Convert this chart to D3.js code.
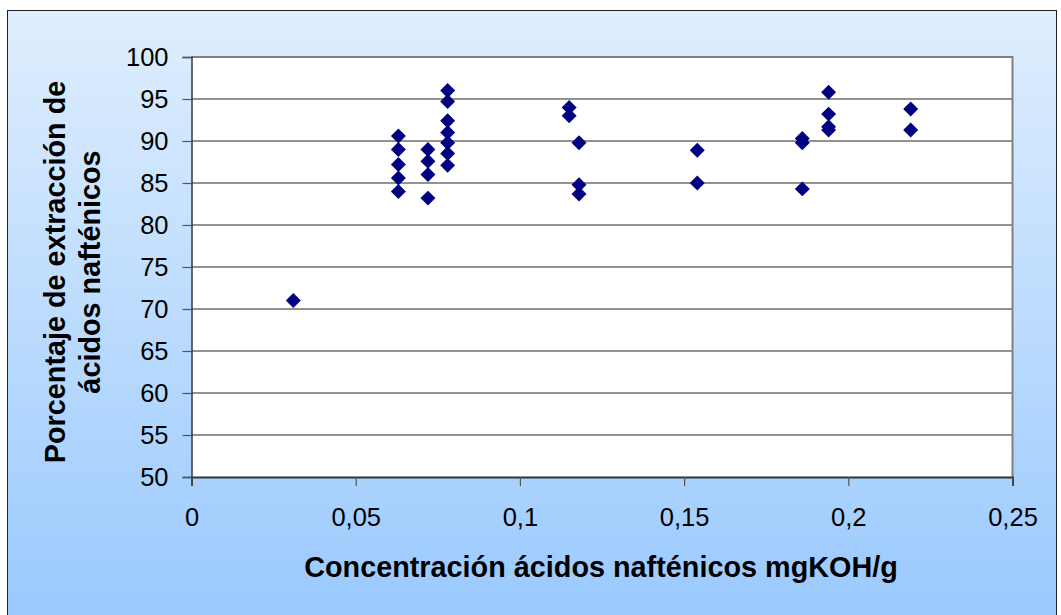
<!DOCTYPE html>
<html>
<head>
<meta charset="utf-8">
<script src="https://cdn.jsdelivr.net/npm/d3@7/dist/d3.min.js"></script>
<style>
  html, body { margin: 0; padding: 0; background: #ffffff; }
  svg { display: block; font-family: "Liberation Sans", Arial, sans-serif; }
</style>
</head>
<body>
<svg id="chart" width="1061" height="615"></svg>
<script>
// Naphthenic acid concentration (mgKOH/g) vs extraction percentage
const concentration = [
  0.031,
  0.063, 0.063, 0.063, 0.063, 0.063,
  0.072, 0.072, 0.072, 0.072,
  0.078, 0.078, 0.078, 0.078, 0.078, 0.078, 0.078,
  0.115, 0.115,
  0.118, 0.118, 0.118,
  0.154, 0.154,
  0.186, 0.186, 0.186,
  0.194, 0.194, 0.194, 0.194,
  0.219, 0.219
];
const extraction = [
  71.0,
  90.6, 89.0, 87.2, 85.6, 84.0,
  89.0, 87.6, 86.0, 83.2,
  96.0, 94.7, 92.4, 91.0, 89.8, 88.5, 87.1,
  94.0, 93.0,
  89.8, 84.8, 83.7,
  88.9, 85.0,
  90.3, 89.8, 84.3,
  95.8, 93.2, 91.7, 91.3,
  93.8, 91.3
];
const xTicks = [0, 0.05, 0.1, 0.15, 0.2, 0.25];
const yTicks = [50, 55, 60, 65, 70, 75, 80, 85, 90, 95, 100];
const xTitle = "Concentración ácidos nafténicos mgKOH/g";
const yTitleLines = ["Porcentaje de extracción de", "ácidos nafténicos"];

const svg = d3.select("#chart");
const plot = { left: 191.5, right: 1012.5, top: 57, bottom: 477 };

// background gradient
const defs = svg.append("defs");
const grad = defs.append("linearGradient")
  .attr("id", "bg").attr("x1", 0).attr("y1", 0).attr("x2", 0).attr("y2", 1);
grad.append("stop").attr("offset", "0%").attr("stop-color", "#dfeefd");
grad.append("stop").attr("offset", "100%").attr("stop-color", "#99c9fe");

svg.append("rect")
  .attr("x", 7.5).attr("y", 10.5)
  .attr("width", 1049).attr("height", 615)
  .attr("fill", "url(#bg)")
  .attr("stroke", "#202020").attr("stroke-width", 1);

const x = d3.scaleLinear().domain([0, 0.25]).range([plot.left, plot.right]);
const y = d3.scaleLinear().domain([50, 100]).range([plot.bottom, plot.top]);

// plot area
svg.append("rect")
  .attr("x", plot.left).attr("y", plot.top)
  .attr("width", plot.right - plot.left).attr("height", plot.bottom - plot.top)
  .attr("fill", "#ffffff");

// horizontal gridlines
svg.append("g")
  .selectAll("line")
  .data(yTicks.filter(t => t > 50))
  .join("line")
  .attr("x1", plot.left).attr("x2", plot.right)
  .attr("y1", d => y(d)).attr("y2", d => y(d))
  .attr("stroke", "#6e6e6e").attr("stroke-width", 1.5);

// plot border (top and right)
svg.append("path")
  .attr("d", `M${plot.left},${plot.top}H${plot.right}V${plot.bottom}`)
  .attr("fill", "none").attr("stroke", "#808080").attr("stroke-width", 2);

const fmt = d => d === 0 ? "0" : String(d).replace(".", ",");

// y axis
const yAxis = svg.append("g")
  .attr("transform", `translate(${plot.left},0)`)
  .call(d3.axisLeft(y).tickValues(yTicks).tickSize(9).tickPadding(14).tickFormat(d => d));
yAxis.select(".domain").attr("stroke", "#333").attr("stroke-width", 1.5);
yAxis.selectAll(".tick line").attr("stroke", "#555").attr("stroke-width", 1.2);
yAxis.selectAll("text")
  .attr("font-size", 25.5).attr("fill", "#000")
  .style("font-family", "'Liberation Sans', Arial, sans-serif");

// x axis
const xAxis = svg.append("g")
  .attr("transform", `translate(0,${plot.bottom})`)
  .call(d3.axisBottom(x).tickValues(xTicks).tickSize(9).tickPadding(22).tickFormat(fmt));
xAxis.select(".domain").attr("stroke", "#333").attr("stroke-width", 2);
xAxis.selectAll(".tick line").attr("stroke", "#555").attr("stroke-width", 1.2);
xAxis.selectAll("text")
  .attr("font-size", 25.5).attr("fill", "#000")
  .style("font-family", "'Liberation Sans', Arial, sans-serif");

// markers
const diamond = d3.symbol().type(d3.symbolSquare).size(112);
svg.append("g")
  .selectAll("path")
  .data(concentration.map((c, i) => ({ c, v: extraction[i] })))
  .join("path")
  .attr("d", diamond)
  .attr("transform", d => `translate(${x(d.c)},${y(d.v)}) rotate(45)`)
  .attr("fill", "#000080");

// axis titles
svg.append("text")
  .attr("x", 601).attr("y", 577)
  .attr("text-anchor", "middle")
  .attr("font-size", 28.8).attr("font-weight", "bold").attr("fill", "#000")
  .text(xTitle);

const yTitle = svg.append("text")
  .attr("transform", "translate(0,272) rotate(-90)")
  .attr("text-anchor", "middle")
  .attr("font-size", 28.8).attr("font-weight", "bold").attr("fill", "#000");
yTitle.selectAll("tspan")
  .data(yTitleLines)
  .join("tspan")
  .attr("x", 0)
  .attr("y", (d, i) => 65 + i * 35)
  .text(d => d);
</script>
</body>
</html>
